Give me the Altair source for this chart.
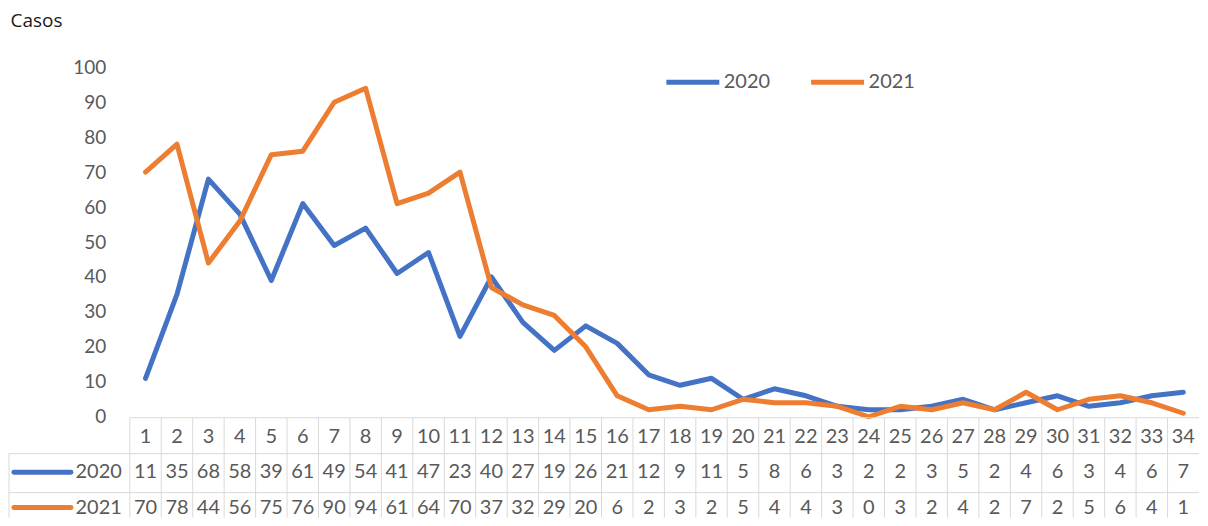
import altair as alt
import pandas as pd

weeks = list(range(1, 35))
series_names = ["2020", "2021"]
cases_2020 = [11, 35, 68, 58, 39, 61, 49, 54, 41, 47, 23, 40, 27, 19, 26, 21, 12, 9, 11, 5,
              8, 6, 3, 2, 2, 3, 5, 2, 4, 6, 3, 4, 6, 7]
cases_2021 = [70, 78, 44, 56, 75, 76, 90, 94, 61, 64, 70, 37, 32, 29, 20, 6, 2, 3, 2, 5,
              4, 4, 3, 0, 3, 2, 4, 2, 7, 2, 5, 6, 4, 1]
y_ticks = list(range(0, 101, 10))
colors = ["#4472C4", "#ED7D31"]

FONT = "Lato"
GRAY = "#595959"
GRID = "#D9D9D9"
W, H = 1071, 350
BOTTOM = 451

df = pd.DataFrame({
    "week": weeks * 2,
    "year": [series_names[0]] * len(weeks) + [series_names[1]] * len(weeks),
    "cases": cases_2020 + cases_2021,
})
weeks_df = pd.DataFrame({"week": weeks})
bounds_df = pd.DataFrame({"b": [w - 0.5 for w in weeks]})

xscale = alt.Scale(domain=[0.5, 34.5], nice=False, zero=False)

lines = alt.Chart(df).mark_line(strokeWidth=5, strokeJoin="round", strokeCap="round").encode(
    x=alt.X("week:Q", scale=xscale, axis=None),
    y=alt.Y("cases:Q", scale=alt.Scale(domain=[0, 100], nice=False),
            axis=alt.Axis(values=y_ticks, ticks=False, domain=False, grid=False,
                          labelPadding=24, labelFontSize=19, labelFont=FONT, labelColor=GRAY,
                          title="Casos", titleAngle=0, titleAlign="left", titleBaseline="middle",
                          titleX=-120, titleY=-47, titleFontSize=19, titleFont="Open Sans",
                          titleFontWeight="normal", titleColor="#1a1a1a")),
    color=alt.Color("year:N", scale=alt.Scale(domain=series_names, range=colors),
                    legend=alt.Legend(orient="none", legendX=535, legendY=-14, direction="horizontal",
                                      title=None, symbolType="stroke", symbolSize=2809,
                                      symbolStrokeWidth=5, labelFontSize=20, labelFont=FONT,
                                      labelColor=GRAY, columnPadding=30, labelOffset=2)),
)

# table grid
vrules = alt.Chart(bounds_df).mark_rule(color=GRID, strokeWidth=1).encode(
    x=alt.X("b:Q", scale=xscale), y=alt.value(351), y2=alt.value(BOTTOM))
left_border = alt.Chart(weeks_df.head(1)).mark_rule(color=GRID, strokeWidth=1).encode(
    x=alt.value(-121), y=alt.value(387), y2=alt.value(BOTTOM))
top_rule = alt.Chart(weeks_df.head(1)).mark_rule(color=GRID, strokeWidth=1).encode(
    x=alt.value(0), x2=alt.value(W), y=alt.value(351))
row_rule1 = alt.Chart(weeks_df.head(1)).mark_rule(color=GRID, strokeWidth=1).encode(
    x=alt.value(-121), x2=alt.value(W), y=alt.value(387))
row_rule2 = alt.Chart(weeks_df.head(1)).mark_rule(color=GRID, strokeWidth=1).encode(
    x=alt.value(-121), x2=alt.value(W), y=alt.value(426))

header = alt.Chart(weeks_df).mark_text(font=FONT, fontSize=20, color=GRAY, baseline="middle").encode(
    x=alt.X("week:Q", scale=xscale), y=alt.value(370), text="week:Q")

layers = [vrules, left_border, top_rule, row_rule1, row_rule2, header]
row_y = [405.5, 441]
for name, col, ry in zip(series_names, colors, row_y):
    sub = df[df["year"] == name]
    layers.append(alt.Chart(sub).mark_text(font=FONT, fontSize=20, color=GRAY, baseline="middle").encode(
        x=alt.X("week:Q", scale=xscale), y=alt.value(ry), text="cases:Q"))
    lab = pd.DataFrame({"year": [name]})
    layers.append(alt.Chart(lab).mark_rule(color=col, strokeWidth=5, strokeCap="round").encode(
        x=alt.value(-116), x2=alt.value(-59), y=alt.value(ry)))
    layers.append(alt.Chart(lab).mark_text(font=FONT, fontSize=20, color=GRAY, baseline="middle",
                                           align="right").encode(
        x=alt.value(-8), y=alt.value(ry), text="year:N"))

chart = alt.layer(lines, *layers).properties(
    width=W, height=H, background="white",
    padding={"left": 0, "top": 3, "right": 0, "bottom": 0},
).configure_view(stroke=None)

chart.save("out.html", embed_options={"renderer": "svg", "actions": False})
